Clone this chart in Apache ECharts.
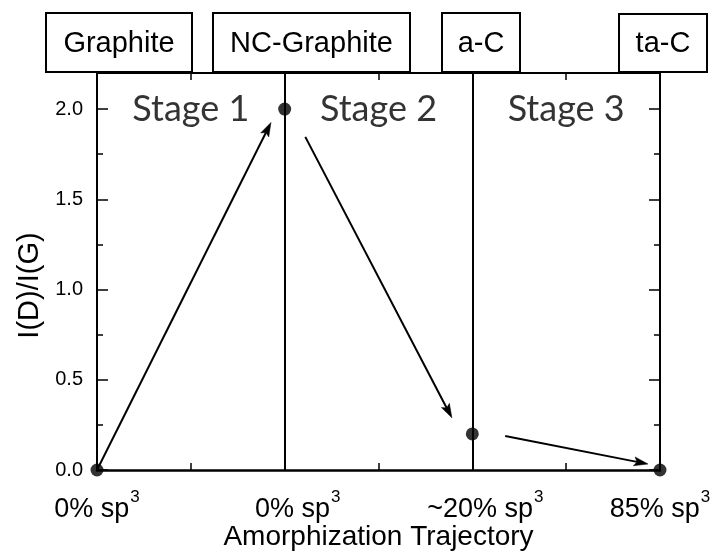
<!DOCTYPE html>
<html><head><meta charset="utf-8">
<script src="https://cdn.jsdelivr.net/npm/echarts@6/dist/echarts.min.js"></script>
<style>html,body{margin:0;padding:0;background:#fff}#c{width:727px;height:553px}</style>
</head><body><div id="c"></div>
<script>
// ---- data ----
const xTickLabels = ['0% sp', '0% sp', '~20% sp', '85% sp'];
const xTickSup = '3';
const pointsX = [0, 1, 2, 3];
const pointsY = [0, 2.0, 0.2, 0];
const dividerX = [1, 2];
const arrowStartX = [0, 1.11, 2.175];
const arrowStartY = [0, 1.846, 0.189];
const arrowEndX = [0.927, 1.891, 2.936];
const arrowEndY = [1.926, 0.289, 0.033];
const stageLabels = ['Stage 1', 'Stage 2', 'Stage 3'];
const stageX = [0.5, 1.5, 2.5];
const stageY = 2.0;
const phaseLabels = ['Graphite', 'NC-Graphite', 'a-C', 'ta-C'];
const xName = 'Amorphization Trajectory';
const yName = 'I(D)/I(G)';
const xMin = 0, xMax = 3, yMin = 0, yMax = 2.2;

// ---- layout (pixels) for the phase boxes above the plot ----
const boxLeft = [46, 213, 442, 619];
const boxRight = [192, 410, 520, 707];
const boxTop = [13, 13, 13, 14];
const boxBottom = 72;

const FONT = '"Liberation Sans", Arial, Helvetica, sans-serif';
const chart = echarts.init(document.getElementById('c'));

const graphics = [];
phaseLabels.forEach((t, i) => {
  graphics.push({
    type: 'rect', z: 100,
    shape: { x: boxLeft[i], y: boxTop[i], width: boxRight[i] - boxLeft[i], height: boxBottom - boxTop[i] },
    style: { fill: '#fff', stroke: '#000', lineWidth: 2 }
  });
  graphics.push({
    type: 'text', z: 101,
    x: (boxLeft[i] + boxRight[i]) / 2, y: (boxTop[i] + boxBottom) / 2 + 1,
    style: { text: t, fontFamily: FONT, fontSize: 29, fill: '#000', align: 'center', verticalAlign: 'middle' }
  });
});

const axisLine = { show: true, onZero: false, lineStyle: { color: '#000', width: 2 } };

const option = {
  animation: false,
  backgroundColor: '#fff',
  grid: { left: 97, right: 67, top: 73, bottom: 83, containLabel: false, outerBoundsMode: 'none' },
  graphic: graphics,
  xAxis: [{
    type: 'value', min: xMin, max: xMax, interval: 0.5,
    position: 'bottom',
    axisLine: { show: true, onZero: false, lineStyle: { color: '#000', width: 2.5 } },
    axisTick: { show: true, inside: true, length: 7, lineStyle: { color: '#000', width: 1.5 } },
    splitLine: { show: false },
    name: xName, nameLocation: 'middle', nameGap: 53, nameMoveOverlap: false,
    nameTextStyle: { fontFamily: FONT, fontSize: 28, color: '#000' },
    axisLabel: {
      margin: 19, color: '#000', fontFamily: FONT,
      formatter: function (v) {
        if (Math.abs(v - Math.round(v)) > 1e-6) return '';
        const i = Math.round(v);
        const pad = (i === 1 || i === 2) ? '{p| }' : '';
        return pad + '{a|' + xTickLabels[i] + '}{b|' + xTickSup + '}';
      },
      rich: {
        a: { fontFamily: FONT, fontSize: 27, lineHeight: 42, color: '#000' },
        b: { fontFamily: FONT, fontSize: 17, lineHeight: 17, verticalAlign: 'top', padding: [0, 0, 0, 1], color: '#000' },
        p: { width: 26, fontSize: 27, lineHeight: 42 }
      }
    }
  }, {
    type: 'value', min: xMin, max: xMax, interval: 0.5,
    position: 'top',
    axisLine: axisLine,
    axisTick: { show: true, inside: true, length: 7, lineStyle: { color: '#000', width: 1.5 } },
    axisLabel: { show: false },
    splitLine: { show: false }
  }],
  yAxis: [{
    type: 'value', min: yMin, max: yMax, interval: 0.5,
    position: 'left',
    axisLine: axisLine,
    axisTick: { show: true, inside: true, length: 11, lineStyle: { color: '#000', width: 1.5 } },
    minorTick: { show: true, splitNumber: 2, length: 6, lineStyle: { color: '#000', width: 1.5 } },
    splitLine: { show: false },
    axisLabel: {
      margin: 14, color: '#000', fontFamily: FONT, fontSize: 20,
      formatter: function (v) {
        return Math.abs(v * 2 - Math.round(v * 2)) < 1e-6 ? v.toFixed(1) : '';
      }
    },
    name: yName, nameLocation: 'middle', nameGap: 52,
    nameTextStyle: { fontFamily: FONT, fontSize: 29, color: '#000', padding: [0, 28, 0, 0] }
  }, {
    type: 'value', min: yMin, max: yMax, interval: 0.5,
    position: 'right',
    axisLine: axisLine,
    axisTick: { show: true, inside: true, length: 11, lineStyle: { color: '#000', width: 1.5 } },
    minorTick: { show: true, splitNumber: 2, length: 6, lineStyle: { color: '#000', width: 1.5 } },
    splitLine: { show: false },
    axisLabel: { show: false }
  }],
  series: [
    {
      type: 'scatter', name: 'stages', xAxisIndex: 0, yAxisIndex: 0,
      symbolSize: 0, silent: true,
      data: stageX.map((x, i) => ({ value: [x, stageY], name: stageLabels[i] })),
      label: {
        show: true, position: 'inside', formatter: '{b}',
        fontFamily: 'Lato, "Open Sans", sans-serif', fontSize: 36, color: '#000'
      },
      z: 3
    },
    {
      type: 'custom', name: 'arrows', xAxisIndex: 0, yAxisIndex: 0, silent: true,
      data: arrowStartX.map((x, i) => [x, arrowStartY[i], arrowEndX[i], arrowEndY[i]]),
      encode: { x: [0, 2], y: [1, 3] },
      renderItem: function (params, api) {
        const p1 = api.coord([api.value(0), api.value(1)]);
        const p2 = api.coord([api.value(2), api.value(3)]);
        const dx = p2[0] - p1[0], dy = p2[1] - p1[1];
        const L = Math.hypot(dx, dy);
        const ux = dx / L, uy = dy / L, nx = -uy, ny = ux;
        const hl = 14, hw = 4.5;
        const bx = p2[0] - ux * hl, by = p2[1] - uy * hl;
        const nxp = p2[0] - ux * hl * 0.8, nyp = p2[1] - uy * hl * 0.8;
        return {
          type: 'group', children: [
            { type: 'line', shape: { x1: p1[0], y1: p1[1], x2: nxp, y2: nyp }, style: { stroke: '#000', lineWidth: 2 } },
            { type: 'polygon', shape: { points: [p2, [bx + nx * hw, by + ny * hw], [nxp, nyp], [bx - nx * hw, by - ny * hw]] }, style: { fill: '#000', stroke: '#000', lineWidth: 0.5 } }
          ]
        };
      },
      z: 4
    },
    {
      type: 'scatter', name: 'points', xAxisIndex: 0, yAxisIndex: 0,
      data: pointsX.map((x, i) => [x, pointsY[i]]),
      symbol: 'circle', symbolSize: 13, clip: false,
      itemStyle: { color: '#000' },
      markLine: {
        silent: true, symbol: ['none', 'none'], animation: false,
        label: { show: false },
        lineStyle: { color: '#000', width: 2, type: 'solid' },
        data: dividerX.map(x => ({ xAxis: x }))
      },
      z: 5
    }
  ]
};
chart.setOption(option);
</script>
</body></html>
